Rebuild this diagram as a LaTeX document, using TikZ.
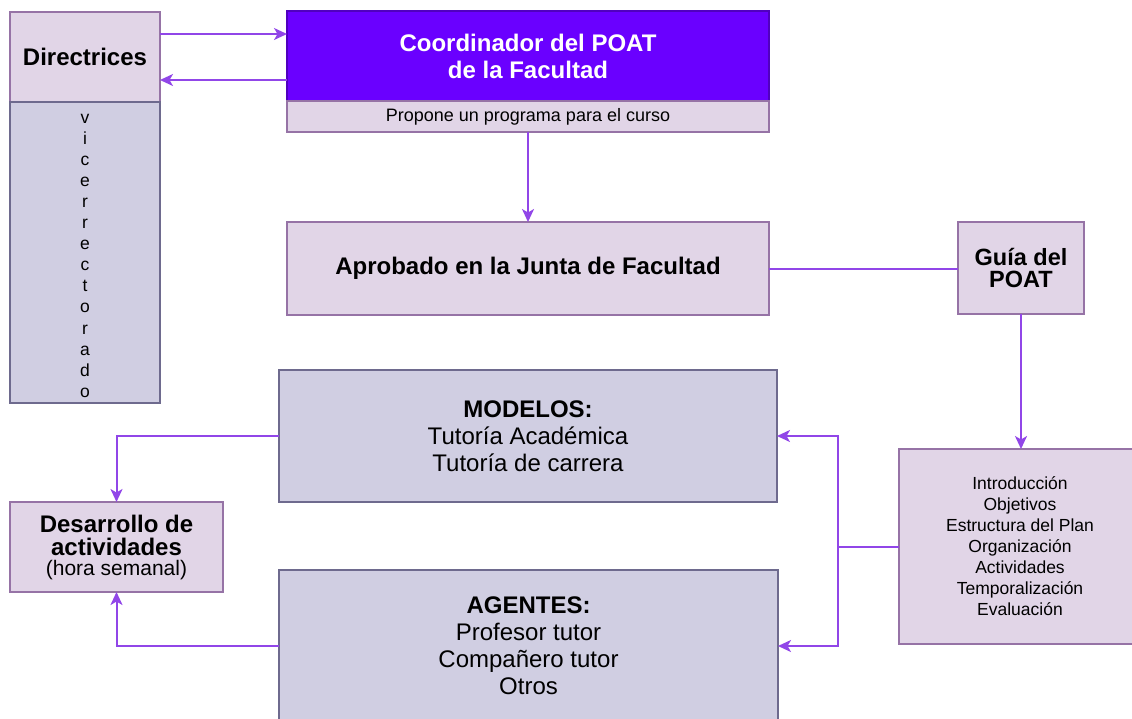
\documentclass[tikz,border=0pt]{standalone}
\usepackage{fontspec}
\setmainfont{Liberation Sans}
\usetikzlibrary{arrows.meta}

\definecolor{filllila}{HTML}{E1D5E7}
\definecolor{bordelila}{HTML}{9673A6}
\definecolor{fillgris}{HTML}{D0CEE2}
\definecolor{bordegris}{HTML}{6E6A8E}
\definecolor{violeta}{HTML}{6A00FF}
\definecolor{morado}{HTML}{9146E8}

\newcommand{\grande}{\fontsize{24}{27}\selectfont}
\newcommand{\apretada}{\fontsize{23.5}{22}\selectfont}
\newcommand{\medio}{\fontsize{18}{21}\selectfont}
\newcommand{\chico}{\fontsize{17.5}{21}\selectfont}

\begin{document}
\begin{tikzpicture}[x=1pt,y=-1pt,
caja/.style={draw=bordelila, fill=filllila, line width=1.4pt, inner sep=0pt, outer sep=0pt, anchor=north west, align=center, text=black},
cajagris/.style={caja, draw=bordegris, fill=fillgris},
conector/.style={draw=morado, line width=2pt},
flecha/.style={conector, -{Stealth[length=13pt,width=12pt,inset=3.5pt]}}]
\useasboundingbox (0,0) rectangle (1132,718);

% columna izquierda
\node[caja, minimum width=150pt, minimum height=90pt, font=\grande\bfseries] (dir) at (10,12) {Directrices};
\node[cajagris, minimum width=150pt, minimum height=301pt] (vice) at (10,102) {};
\foreach \l [count=\i] in {v,i,c,e,r,r,e,c,t,o,r,a,d,o} {
\node[font=\chico, inner sep=0pt, anchor=base] (v\i) at (85, 101.9+21.1*\i) {\l};
}

% coordinador
\node[caja, draw=violeta!75!black, fill=violeta, text=white, minimum width=482pt, minimum height=90pt, font=\grande\bfseries] (coord) at (287,11) {Coordinador del POAT\\de la Facultad};
\node[caja, minimum width=482pt, minimum height=31pt, font=\medio] (prop) at (287,101) {Propone un programa para el curso};

% junta y guia
\node[caja, minimum width=482pt, minimum height=93pt, font=\grande\bfseries] (aprob) at (287,222) {Aprobado en la Junta de Facultad};
\node[caja, minimum width=126pt, minimum height=92pt, font=\apretada\bfseries] (guia) at (958,222) {Guía del\\POAT};
\node[caja, minimum width=242pt, minimum height=195pt, font=\chico] (lista) at (899,449) {Introducción\\Objetivos\\Estructura del Plan\\Organización\\Actividades\\Temporalización\\Evaluación};

% modelos y agentes
\node[cajagris, minimum width=498pt, minimum height=132pt, font=\grande] (mod) at (279,370) {\textbf{MODELOS:}\\Tutoría Académica\\Tutoría de carrera};
\node[cajagris, minimum width=499pt, minimum height=152pt, font=\grande] (agen) at (279,570) {\textbf{AGENTES:}\\Profesor tutor\\Compañero tutor\\Otros};
\node[caja, minimum width=213pt, minimum height=90pt, font=\grande] (desa) at (10,502) {\textbf{Desarrollo de}\\[-4pt]\textbf{actividades}\\[-7pt]{\fontsize{21}{21}\selectfont(hora semanal)}};

% conectores
\draw[flecha] ([yshift=23pt]dir.east) -- ([yshift=23pt]dir.east -| coord.west);
\draw[flecha] ([yshift=-23pt]dir.east -| coord.west) -- ([yshift=-23pt]dir.east);
\draw[flecha] (prop.south) -- (aprob.north);
\draw[conector] (aprob.east) -- (aprob.east -| guia.west);
\draw[flecha] (guia.south) -- (guia.south |- lista.north);
\coordinate (cruce) at ([xshift=-61pt]lista.west);
\draw[conector] (lista.west) -- (cruce);
\draw[flecha] (cruce) |- (mod.east);
\draw[flecha] (cruce) |- (agen.east);
\draw[flecha] (mod.west) -| (desa.north);
\draw[flecha] (agen.west) -| (desa.south);

\end{tikzpicture}
\end{document}
